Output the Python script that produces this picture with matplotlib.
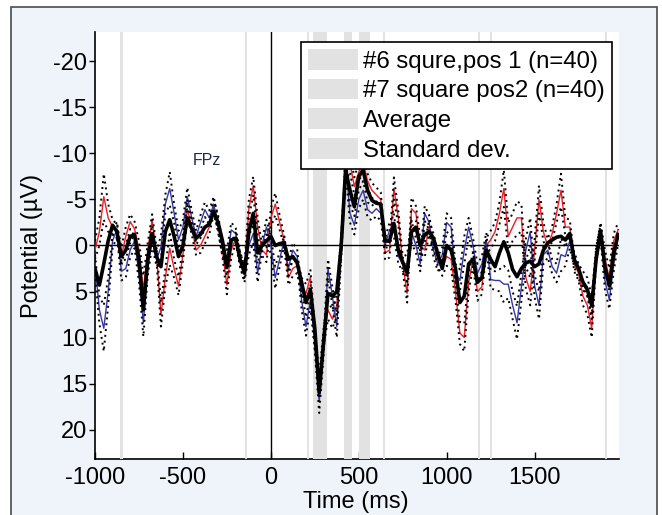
import numpy as np
import matplotlib
matplotlib.use("Agg")
import matplotlib.pyplot as plt
from matplotlib.patches import Rectangle, Patch

plt.rcParams['font.family'] = ['Liberation Sans', 'DejaVu Sans']
plt.rcParams['axes.unicode_minus'] = False

# time axis, 25 ms steps from -1000 to 1975
time_ms = np.arange(-1000, 2000, 25)

# condition #6 (red)
pos1 = [0.5, -1.5, -5.3, -3, -2, -1.5, 1.2, -1, -2.6, -1.8,
        0.5, 4.8, 0.5, -2.8, 1, 7.5, 3.5, 0.3, 2.5, 4.4,
        1, -4, -2, 0.5, 0, -1, -2, -4.2, -2.5, 0.5,
        4.3, 0.5, -0.8, 1.5, 3, -4, -6.5, -2, 0.5, 1,
        -3, -4.5, -2.5, -0.6, 3.5, 2.5, 2.2, 4.5, 5.2, 3.4,
        10, 15.3, 10, 7, 8, 6.5, 0, -8, -9, -6.4,
        -8, -9, -7, -6, -5.5, -5, 0.8, 0.5, -6.2, -3,
        2, 5.2, -4, -3.5, 0, 0.5, -2, -0.5, 1.5, 2.5,
        1.2, 1.5, 5, 9.5, 10, 4, 1.5, 5, 4.5, 0,
        -0.6, -1.5, -3.5, -6.2, -1, -2, -3, -3, 3.5, 5,
        0.5, -5, -1.5, 0.1, -1.3, -3.5, -6, -2, -2, 2,
        3, 5.5, 6.5, 9, 1, -1.7, 1.5, 3.5, -0.5, -1.7]

# condition #7 (blue)
pos2 = [2, 7, 9, 5, -0.5, -1.8, 2.8, 2.5, 0.5, -0.5,
        3, 8.4, 2.5, -0.6, 1.5, 0.2, -4.5, -6.2, -3.5, -0.6,
        -2, -5.3, -3, -1, -2.5, -3.9, -3, -4.5, -2.2, 0.3,
        1.5, -1.7, -1.3, 1.5, 3.2, 0, -1.3, 3, 0, -2,
        0, 3.5, 1.5, -0.5, 2.5, 0.5, 1.2, 6, 8.8, 5.9,
        10.5, 17, 11, 2.5, 5.5, 8.8, 0.5, -9, -3.5, -2.2,
        -5, -6, -3.9, -3.5, -4, -3.5, 0, -1.7, -2.2, 1.2,
        2, 2, -1.5, 0, 2, -3.5, -2.5, 0.5, 2, 1,
        -2.5, -2, 3, 3.8, 0.5, -2, 0, 3, 2, -0.6,
        3.7, 3.8, 3.8, 4.2, 4.2, 6.5, 8.4, 4.5, 0.5, -1.5,
        4.4, 6.5, 1, 0.5, 2.3, 3, 1, 1.2, -0.5, 1.5,
        2.8, 3.8, 4.5, 6.5, 1, -1.5, 3.8, 5.9, 2, -1]

# average (black)
average = [2.5, 4.3, 2, -0.5, -2.2, -1.5, 1.2, 0.5, -1, -1.1,
           1.5, 7, 1.5, -1.3, 1.2, 2.3, -1.5, -2.8, -1, 1.2,
           0, -3, -1.8, -0.8, -1.2, -2, -2.3, -3.7, -2.5, -0.5,
           2.3, -0.6, -0.8, 1.5, 3, -1.5, -3.5, 0.8, 0, -0.5,
           -1, 0, -0.2, -0.3, 1.5, 1.2, 1.9, 4, 6.2, 4.8,
           9, 16, 10.5, 5.2, 5.5, 5, 0.1, -8.2, -6, -4.2,
           -7.5, -8.2, -6, -4.9, -4.6, -4.5, -0.5, -0.5, -2.4, 0.5,
           1.8, 3, -1.5, -2, 0, -1.2, -1.5, -0.8, 1, 2.5,
           0, 0.5, 2.5, 6.2, 5.5, 2, 1.5, 4, 3.5, 0.5,
           1.5, 2.3, 0.8, -0.4, 0.8, 2.6, 3.4, 2.5, 1.9, 1.7,
           2.3, 2, 0.5, -0.3, -0.6, -0.9, -1, -0.6, -1.3, 1.5,
           2.5, 4, 4.8, 6.5, 1.5, -1.6, 2.3, 4.4, 0.8, -1.2]

# standard deviation (dotted)
std_dev = [1, 1.5, 2.5, 1.5, 0.8, 0.8, 1, 1, 0.8, 0.8,
           1, 1.5, 0.8, 0.6, 0.8, 1.3, 1, 1.8, 1, 1,
           0.8, 1, 0.8, 0.6, 0.8, 0.8, 0.8, 0.8, 0.8, 0.8,
           1, 0.8, 0.6, 0.8, 0.8, 1, 1, 1, 0.6, 0.8,
           1, 1.2, 0.8, 0.6, 0.8, 0.8, 0.8, 1, 1, 0.8,
           1, 1.2, 1, 1, 1, 1.2, 1, 1, 1, 1,
           1, 1, 0.8, 0.8, 0.8, 0.8, 0.8, 0.8, 1.2, 0.8,
           0.8, 1, 1.2, 0.8, 0.8, 0.8, 0.8, 0.8, 0.8, 0.8,
           1, 1, 1, 1.2, 1.5, 1, 0.8, 1, 0.8, 0.8,
           1, 1, 1.2, 2, 1.5, 1.5, 1.8, 1.5, 1.2, 1.5,
           1.2, 1.5, 1, 0.8, 0.8, 1, 1.8, 1, 0.8, 0.8,
           0.8, 1, 1, 1, 0.8, 0.8, 1, 1, 0.8, 0.8]

# significant intervals (gray bands)
band_start = [-855, -148, 205, 240, 418, 503, 640, 1176, 1246, 1902]
band_end = [-843, -136, 216, 322, 462, 562, 652, 1188, 1258, 1914]

legend_labels = ['#6 squre,pos 1 (n=40)', '#7 square pos2 (n=40)', 'Average', 'Standard dev.']

fig = plt.figure(figsize=(6.62, 5.15), dpi=100, facecolor='white')
# light blue panel with dark frame, behind the axes
fig.patches.append(Rectangle((11 / 662, -0.02), 646 / 662, 1.02 - 7 / 515,
                             transform=fig.transFigure, facecolor='#eef4f9',
                             edgecolor='#4a4a4a', linewidth=1.2, zorder=-10))

ax = fig.add_axes([95 / 662, 1 - 459 / 515, 524 / 662, 427 / 515])
ax.set_zorder(1)
ax.set_facecolor('white')

gray = '#e2e2e2'
for s, e in zip(band_start, band_end):
    ax.axvspan(s, e, color=gray, lw=0, zorder=2.6)

ax.axhline(0, color='black', lw=1, zorder=2.8)
ax.axvline(0, color='black', lw=1, zorder=2.8)

pos1 = np.array(pos1)
pos2 = np.array(pos2)
std_dev = np.array(std_dev)

ax.plot(time_ms, pos1, color='#ee1c24', lw=1, zorder=3)
ax.plot(time_ms, pos2, color='#3636a6', lw=1, zorder=3)
for series in (pos1, pos2):
    ax.plot(time_ms, series + std_dev, color='black', lw=1.4, ls=(0, (1, 2)), zorder=3.2)
    ax.plot(time_ms, series - std_dev, color='black', lw=1.4, ls=(0, (1, 2)), zorder=3.2)
ax.plot(time_ms, average, color='black', lw=2.6, zorder=3.5)

ax.text(-365, -9.2, 'FPz', fontsize=11.5, color='#1f2a44', ha='center', va='center')

ax.set_xlim(-1000, 1980)
ax.set_ylim(23.2, -23.2)
ax.set_xticks([-1000, -500, 0, 500, 1000, 1500])
ax.set_yticks([-20, -15, -10, -5, 0, 5, 10, 15, 20])
for side in ('top', 'right'):
    ax.spines[side].set_visible(False)
ax.spines['left'].set_linewidth(1.2)
ax.spines['bottom'].set_linewidth(1.2)
ax.tick_params(axis='x', direction='in', length=5, width=1, labelsize=17, pad=6)
ax.tick_params(axis='y', direction='out', length=4, width=1, labelsize=17, pad=1.5)

ax.set_xlabel('Time (ms)', fontsize=17)
ax.xaxis.set_label_coords(0.498, -0.075)
ax.set_ylabel('Potential (µV)', fontsize=17)
ax.yaxis.set_label_coords(-0.1, 0.5)

handles = [Patch(facecolor=gray, edgecolor='none') for _ in legend_labels]
leg = ax.legend(handles, legend_labels, loc='upper right', bbox_to_anchor=(0.9866, 0.977),
                fontsize=17.3, frameon=True, fancybox=False, framealpha=1,
                edgecolor='black', handlelength=2.1, handleheight=0.95,
                handletextpad=0.2, labelspacing=0.25, borderpad=0.3, borderaxespad=0)
leg.get_frame().set_linewidth(1.2)
leg.set_zorder(5)

fig.savefig('out.png', dpi=100, facecolor=fig.get_facecolor())
